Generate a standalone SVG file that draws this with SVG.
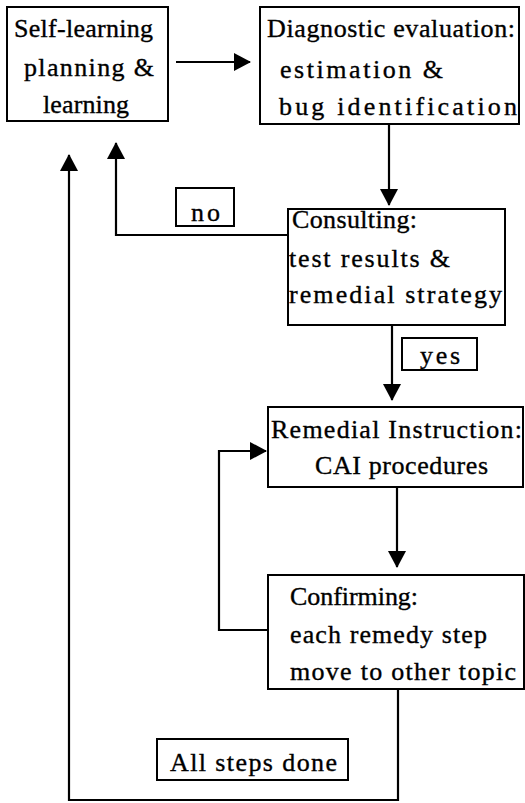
<svg xmlns="http://www.w3.org/2000/svg" width="525" height="803" viewBox="0 0 525 803">
<style>
.box{fill:#fff;stroke:#000;stroke-width:2}
.t{font-family:"Liberation Serif","Times New Roman",serif;font-size:26px;fill:#000;stroke:#000;stroke-width:0.35}
.c{fill:none;stroke:#000;stroke-width:2.2}
</style>
<defs>
<marker id="ah" markerUnits="userSpaceOnUse" markerWidth="17" markerHeight="18" refX="16" refY="9" orient="auto">
<path d="M0,0 L17,9 L0,18 z" fill="#000"/>
</marker>
</defs>
<rect width="525" height="803" fill="#fff"/>
<g id="connectors">
<path class="c" d="M176,62 L250,62" marker-end="url(#ah)"/>
<path class="c" d="M389,124 L389,205" marker-end="url(#ah)"/>
<path class="c" d="M288,235 L116,235 L116,143" marker-end="url(#ah)"/>
<path class="c" d="M392,325 L392,400" marker-end="url(#ah)"/>
<path class="c" d="M397,488 L397,567" marker-end="url(#ah)"/>
<path class="c" d="M268,630 L219,630 L219,451 L266,451" marker-end="url(#ah)"/>
<path class="c" d="M398,689 L398,800 L69,800 L69,155" marker-end="url(#ah)"/>
</g>
<g id="n1">
<rect class="box" x="7" y="7" width="161" height="114"/>
<text class="t" x="14" y="37" textLength="139" lengthAdjust="spacing">Self-learning</text>
<text class="t" x="24" y="76" textLength="130" lengthAdjust="spacing">planning &amp;</text>
<text class="t" x="43" y="113" textLength="86" lengthAdjust="spacing">learning</text>
</g>
<g id="n2">
<rect class="box" x="260" y="7" width="259" height="117"/>
<text class="t" x="267" y="37" textLength="248" lengthAdjust="spacing">Diagnostic evaluation:</text>
<text class="t" x="280" y="78" textLength="163" lengthAdjust="spacing">estimation &amp;</text>
<text class="t" x="279" y="115" textLength="238" lengthAdjust="spacing">bug identification</text>
</g>
<g id="n3">
<rect class="box" x="288" y="209" width="217" height="116"/>
<text class="t" x="292" y="228" textLength="125" lengthAdjust="spacing">Consulting:</text>
<text class="t" x="289" y="267" textLength="161" lengthAdjust="spacing">test results &amp;</text>
<text class="t" x="289" y="303" textLength="213" lengthAdjust="spacing">remedial strategy</text>
</g>
<g id="lbl-no">
<rect class="box" x="176" y="188" width="58" height="38"/>
<text class="t" x="191" y="221" textLength="29" lengthAdjust="spacing">no</text>
</g>
<g id="lbl-yes">
<rect class="box" x="402" y="338" width="75" height="32"/>
<text class="t" x="420" y="364" textLength="40" lengthAdjust="spacing">yes</text>
</g>
<g id="n4">
<rect class="box" x="268" y="407" width="255" height="80"/>
<text class="t" x="271" y="438" textLength="251" lengthAdjust="spacing">Remedial Instruction:</text>
<text class="t" x="315" y="474" textLength="173" lengthAdjust="spacing">CAI procedures</text>
</g>
<g id="n5">
<rect class="box" x="268" y="575" width="256" height="114"/>
<text class="t" x="290" y="605" textLength="128" lengthAdjust="spacing">Confirming:</text>
<text class="t" x="290" y="643" textLength="197" lengthAdjust="spacing">each remedy step</text>
<text class="t" x="290" y="680" textLength="226" lengthAdjust="spacing">move to other topic</text>
</g>
<g id="lbl-done">
<rect class="box" x="157" y="739" width="191" height="41"/>
<text class="t" x="170" y="771" textLength="167" lengthAdjust="spacing">All steps done</text>
</g>
</svg>
